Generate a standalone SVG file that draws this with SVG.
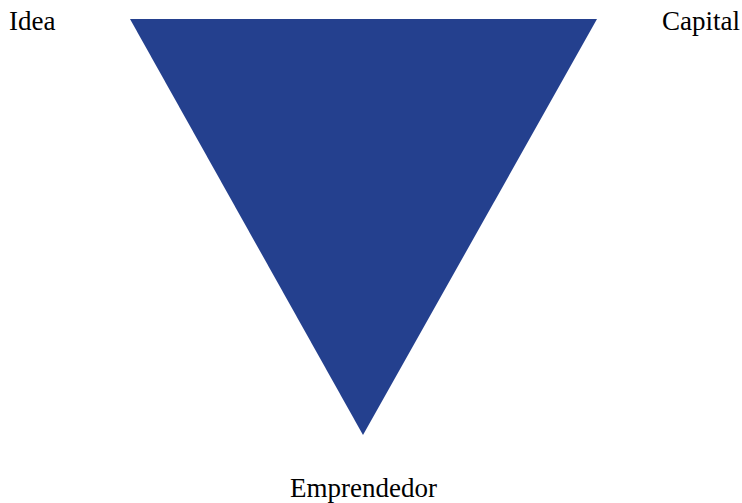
<svg xmlns="http://www.w3.org/2000/svg" width="742" height="503" viewBox="0 0 742 503">
<style>
.lbl{font-family:"Liberation Serif","Times New Roman",serif;font-size:27px;fill:#000}
</style>
<rect width="742" height="503" fill="#fff"/>
<g id="triangle"><polygon points="130,19 597,19 363,435" fill="#24408E"/></g>
<g id="idea"><text class="lbl" x="9" y="30">Idea</text></g>
<g id="capital"><text class="lbl" x="740" y="30" text-anchor="end">Capital</text></g>
<g id="emprendedor"><text class="lbl" x="363.5" y="497" text-anchor="middle">Emprendedor</text></g>
</svg>
